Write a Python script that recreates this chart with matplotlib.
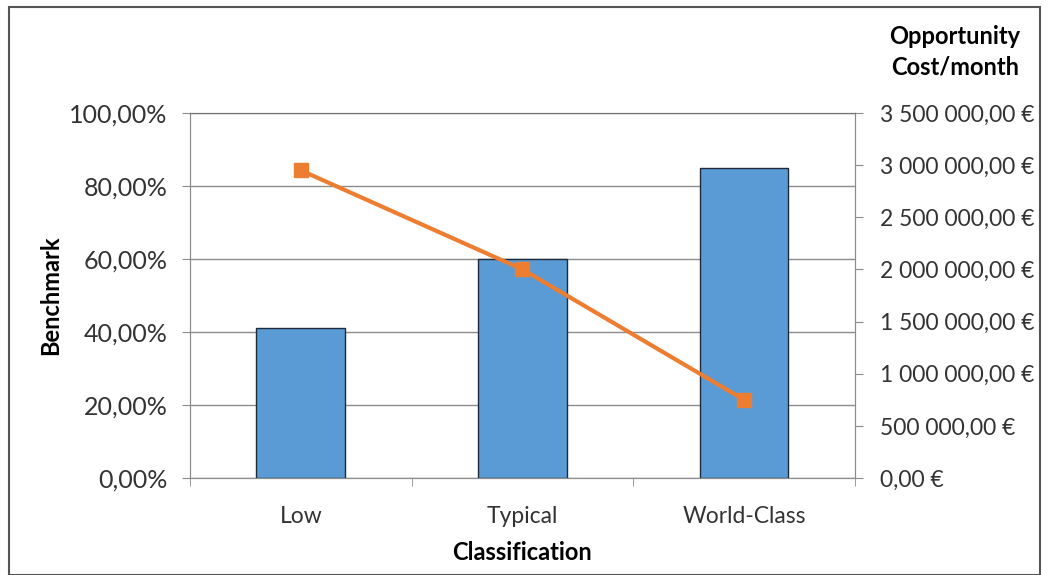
import matplotlib as mlp

mlp.use('Agg')
import matplotlib.pyplot as plt
from matplotlib.ticker import FuncFormatter, MultipleLocator

# benchmark per classification and monthly opportunity cost
categories = ['Low', 'Typical', 'World-Class']
benchmark = [0.41, 0.60, 0.85]
opp_cost = [2950000, 2000000, 750000]

plt.rcParams['font.family'] = ['Lato', 'DejaVu Sans']


def pct_fmt(v, pos):
    return ('%.2f%%' % (v * 100)).replace('.', ',')


def eur_fmt(v, pos):
    whole = '{:,.0f}'.format(v).replace(',', ' ')
    return whole + ',00 €'


fig = plt.figure(figsize=(10.48, 5.75), dpi=100)
ax = fig.add_axes([0.1813, 0.1687, 0.6345, 0.6348])

x = list(range(len(categories)))
ax.bar(x, benchmark, width=0.4, color='#5B9BD5', edgecolor='#1c2a3a', linewidth=1.0, zorder=3)
ax.set_xlim(-0.5, 2.5)
ax.set_ylim(0, 1.0)
ax.yaxis.set_major_locator(MultipleLocator(0.2))
ax.yaxis.set_major_formatter(FuncFormatter(pct_fmt))
ax.grid(axis='y', color='#8c8c8c', linewidth=1.0, zorder=0)
ax.set_xticks(x)
ax.set_xticklabels(categories)
ax.set_xticks([-0.5, 0.5, 1.5, 2.5], minor=True)
ax.tick_params(axis='x', which='major', length=0, pad=20, labelsize=16.5, labelcolor='#333333')
ax.tick_params(axis='x', which='minor', length=6, color='#8c8c8c', direction='out')
ax.tick_params(axis='y', length=6, color='#8c8c8c', labelsize=18, labelcolor='#333333', pad=10)
for s in ax.spines.values():
    s.set_color('#8c8c8c')
ax.spines['top'].set_color('#777777')
ax.set_ylabel('Benchmark', fontsize=17, fontweight='bold', labelpad=5)
ax.set_xlabel('Classification', fontsize=17, fontweight='bold', labelpad=10)

ax2 = ax.twinx()
ax2.plot(x, opp_cost, color='#ED7D31', linewidth=3, marker='s', markersize=10, zorder=4)
ax2.set_ylim(0, 3500000)
ax2.yaxis.set_major_locator(MultipleLocator(500000))
ax2.yaxis.set_major_formatter(FuncFormatter(eur_fmt))
ax2.tick_params(axis='y', length=6, color='#8c8c8c', labelsize=16.5, labelcolor='#333333', pad=12)
for s in ax2.spines.values():
    s.set_color('#8c8c8c')
ax2.spines['top'].set_color('#777777')

fig.text(0.911, 0.91, 'Opportunity\nCost/month', ha='center', va='center',
         fontsize=17, fontweight='bold', linespacing=1.35)

# outer frame around the whole chart
fig.patches.append(plt.Rectangle((0.009, 0.0), 0.983, 0.987, transform=fig.transFigure,
                                 fill=False, edgecolor='#555555', linewidth=1.5))

plt.savefig('out.png', dpi=100)
